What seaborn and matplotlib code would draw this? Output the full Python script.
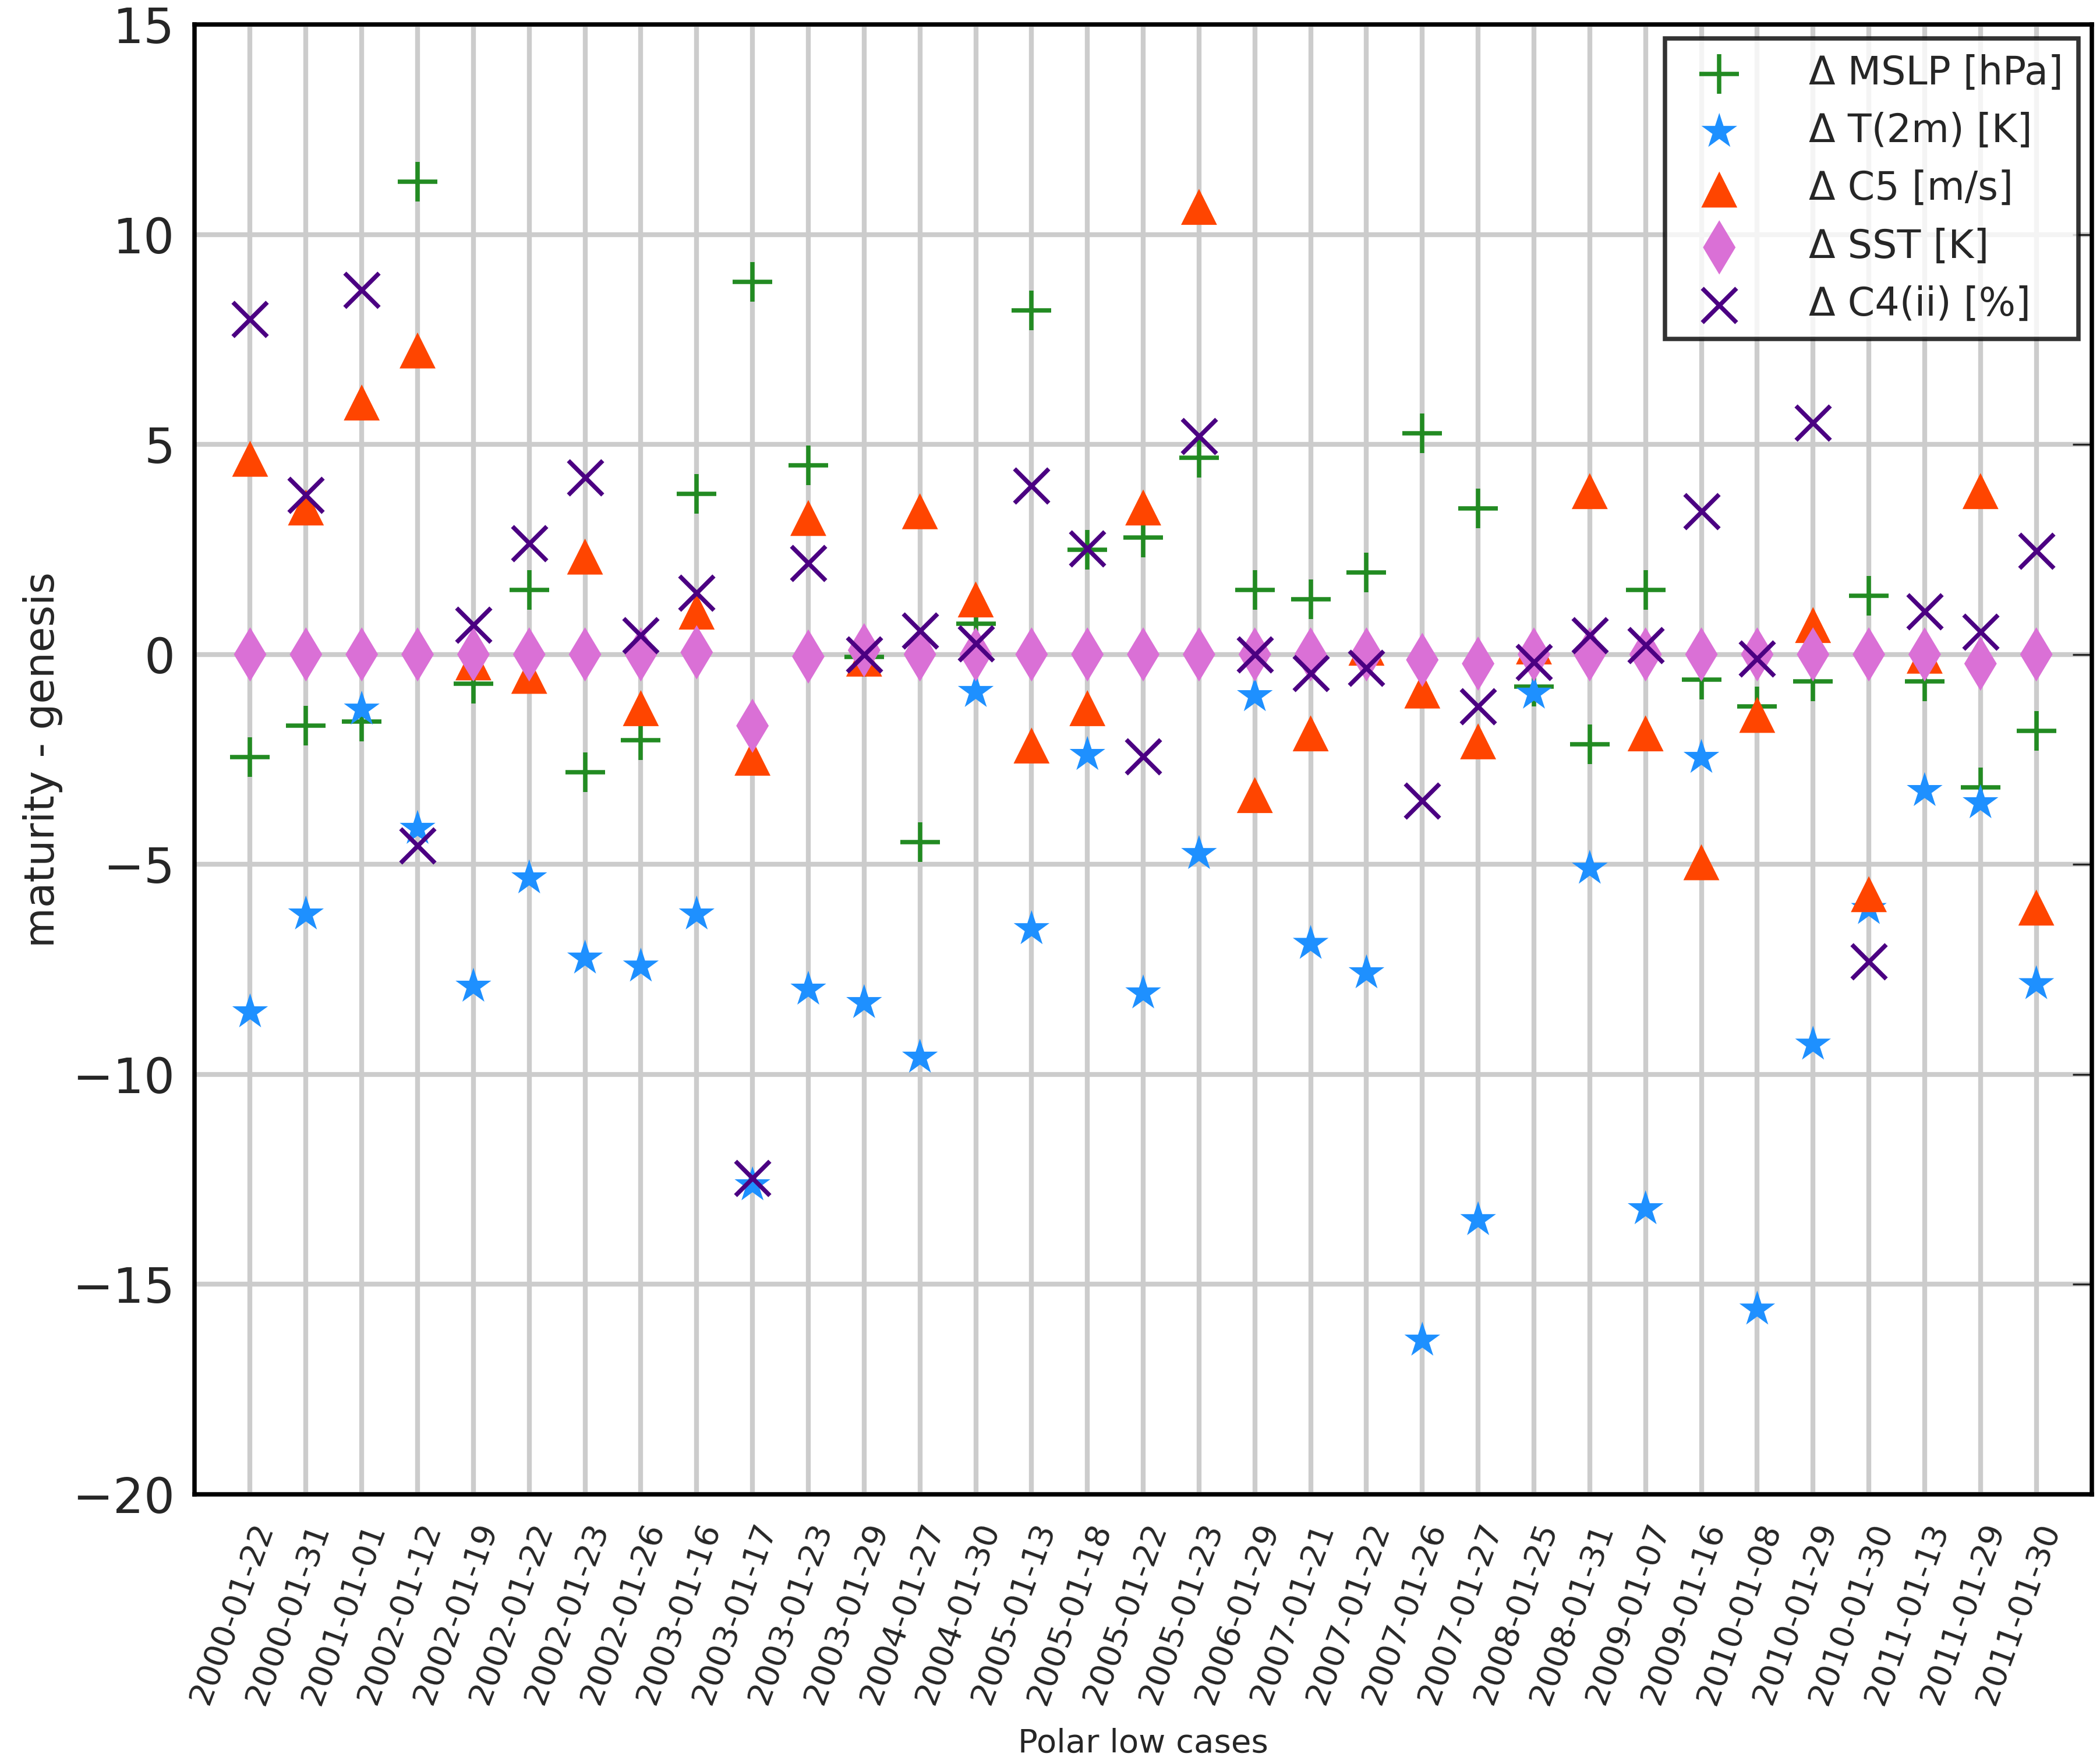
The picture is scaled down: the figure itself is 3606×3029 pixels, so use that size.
import numpy as np
import pandas as pd
import matplotlib
matplotlib.use("Agg")
import matplotlib.pyplot as plt
import seaborn as sns

dates = ["2000-01-22", "2000-01-31", "2001-01-01", "2002-01-12", "2002-01-19", "2002-01-22",
         "2002-01-23", "2002-01-26", "2003-01-16", "2003-01-17", "2003-01-23", "2003-01-29",
         "2004-01-27", "2004-01-30", "2005-01-13", "2005-01-18", "2005-01-22", "2005-01-23",
         "2006-01-29", "2007-01-21", "2007-01-22", "2007-01-26", "2007-01-27", "2008-01-25",
         "2008-01-31", "2009-01-07", "2009-01-16", "2010-01-08", "2010-01-29", "2010-01-30",
         "2011-01-13", "2011-01-29", "2011-01-30"]

mslp = [-2.45, -1.7, -1.6, 11.26, -0.7, 1.53, -2.8, -2.04, 3.83, 8.87, 4.5, -0.06,
        -4.47, 0.73, 8.2, 2.49, 2.78, 4.69, 1.53, 1.31, 1.95, 5.26, 3.48, -0.77,
        -2.14, 1.53, -0.6, -1.24, -0.64, 1.4, -0.64, -3.16, -1.82]
t2m = [-8.52, -6.19, -1.31, -4.15, -7.91, -5.33, -7.24, -7.43, -6.19, -12.64, -7.98, -8.3,
       -9.6, -0.89, -6.54, -2.39, -8.07, -4.75, -0.99, -6.89, -7.59, -16.34, -13.47, -0.93,
       -5.1, -13.21, -2.46, -15.6, -9.29, -6.06, -3.25, -3.54, -7.85]
c5 = [4.66, 3.5, 6.0, 7.24, -0.19, -0.51, 2.33, -1.28, 1.02, -2.46, 3.25, -0.1,
      3.41, 1.31, -2.17, -1.28, 3.5, 10.66, -3.35, -1.88, 0.16, -0.86, -2.07, 0.19,
      3.89, -1.88, -4.95, -1.44, 0.7, -5.71, -0.03, 3.89, -6.03]
sst = [0.0, 0.0, 0.0, 0.0, 0.0, 0.0, 0.0, 0.0, 0.05, -1.7, -0.05, 0.1,
       0.0, 0.0, 0.0, 0.0, 0.0, 0.0, 0.0, 0.0, 0.0, -0.13, -0.22, 0.0,
       0.0, 0.0, 0.0, 0.0, 0.0, 0.0, 0.0, -0.22, 0.0]
c4 = [7.98, 3.8, 8.68, -4.56, 0.7, 2.65, 4.21, 0.45, 1.47, -12.48, 2.17, 0.0,
      0.57, 0.26, 4.02, 2.52, -2.43, 5.2, 0.0, -0.45, -0.32, -3.48, -1.24, -0.19,
      0.45, 0.22, 3.41, -0.1, 5.52, -7.31, 1.02, 0.54, 2.46]

series = [
    ("Δ MSLP [hPa]", mslp, "+", "#228B22", 260),
    ("Δ T(2m) [K]", t2m, "*", "#1E90FF", 240),
    ("Δ C5 [m/s]", c5, "^", "#FF4500", 220),
    ("Δ SST [K]", sst, "d", "#DA70D6", 250),
    ("Δ C4(ii) [%]", c4, "x", "#4B0082", 200),
]

sns.set_style("white")
plt.rcParams["font.family"] = ["DejaVu Sans"]

fig = plt.figure(figsize=(12.023, 10.097), dpi=300)
ax = fig.add_axes([0.0925, 0.153, 0.9035, 0.833])
ax.set_axisbelow(True)
ax.grid(True, color="#cccccc", linewidth=2)

x = np.arange(len(dates))
for name, vals, mk, col, sz in series:
    df = pd.DataFrame({"x": x, "y": vals})
    sns.scatterplot(data=df, x="x", y="y", ax=ax, marker=mk, color=col, s=sz,
                    linewidth=1.8 if mk in "+x" else 0, edgecolor=col if mk in "+x" else "none",
                    label=name, zorder=3)

ax.set_xlim(-1, len(dates))
ax.set_ylim(-20, 15)
ax.set_xticks(x)
ax.set_xticklabels(dates, rotation=70, ha="right", fontsize=13.5, rotation_mode="anchor")
ax.set_yticks(np.arange(-20, 16, 5))
ax.tick_params(axis="y", labelsize=20, direction="in", length=8, right=True, pad=8)
ax.tick_params(axis="x", direction="in", length=0, pad=10)
for s in ax.spines.values():
    s.set_linewidth(1.8)
    s.set_color("black")
ax.set_xlabel("Polar low cases", fontsize=13.5, labelpad=8)
ax.set_ylabel("maturity - genesis", fontsize=17)
leg = ax.legend(loc="upper right", fontsize=16, frameon=True, fancybox=False,
                borderaxespad=0.35, handletextpad=1.3, scatterpoints=1)
leg.get_frame().set_edgecolor("black")
leg.get_frame().set_linewidth(1.8)

fig.savefig("out.png", dpi=300)
